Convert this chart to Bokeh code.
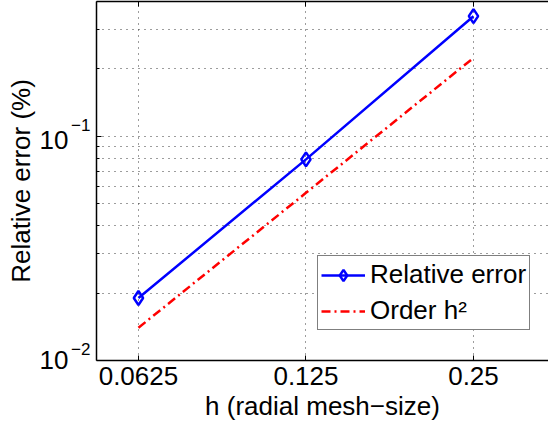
from bokeh.plotting import figure
from bokeh.models import Range1d, FixedTicker, LogAxis, Legend, LegendItem
from bokeh.embed import file_html
from bokeh.resources import INLINE

# ---- data ----
h = [0.0625, 0.125, 0.25]
rel_err = [0.0190, 0.0790, 0.344]
order_h2 = [0.0140, 0.0560, 0.224]

x_ticks = [0.0625, 0.125, 0.25]
x_tick_labels = ["0.0625", "0.125", "0.25"]
y_ticks = [0.01, 0.1]
y_tick_base = ["10", "10"]
y_tick_exponents = ["\u22122", "\u22121"]
y_minor = [0.02, 0.03, 0.04, 0.05, 0.06, 0.07, 0.08, 0.09, 0.2, 0.3, 0.4]

x_lim = (0.05254, 0.341)
y_lim = (0.01, 0.4)

FONT = "Liberation Sans"
FS = "26px"
GRID = "#3a3a3a"

W, H = 548, 425
BORDER_L, BORDER_T, BORDER_B = 96, 1, 65
px_per_decade = (H - BORDER_T - BORDER_B) / 1.60206  # log10(0.4/0.01)

p = figure(width=W, height=H, x_axis_type="log", y_axis_type="log",
           x_range=Range1d(*x_lim), y_range=Range1d(*y_lim),
           output_backend="svg", toolbar_location=None,
           min_border_left=BORDER_L, min_border_right=0, min_border_top=BORDER_T,
           min_border_bottom=BORDER_B)
p.outline_line_color = None
p.background_fill_color = "white"
p.border_fill_color = "white"

# x axis
xa = p.xaxis[0]
xa.ticker = FixedTicker(ticks=x_ticks)
xa.major_label_overrides = {t: s for t, s in zip(x_ticks, x_tick_labels)}
xa.major_label_text_font = FONT
xa.major_label_text_font_size = FS
xa.major_label_text_color = "black"
xa.major_label_standoff = 6
xa.major_tick_in = 5
xa.major_tick_out = 0
xa.minor_tick_in = 0
xa.minor_tick_out = 0
xa.axis_line_width = 1.5
xa.axis_line_color = "black"
xa.major_tick_line_color = "black"
xa.axis_label = "h (radial mesh\u2212size)"
xa.axis_label_text_font = FONT
xa.axis_label_text_font_size = FS
xa.axis_label_text_font_style = "normal"
xa.axis_label_text_color = "black"
xa.axis_label_standoff = 3

# y axis (ticks only, next to the frame)
ya = p.yaxis[0]
ya.ticker = FixedTicker(ticks=y_ticks, minor_ticks=y_minor)
ya.major_label_overrides = {t: "" for t in y_ticks}
ya.major_label_text_font_size = "0px"
ya.major_label_standoff = 0
ya.major_tick_in = 5
ya.major_tick_out = 0
ya.minor_tick_in = 3
ya.minor_tick_out = 0
ya.axis_line_width = 1.5
ya.axis_line_color = "black"
ya.major_tick_line_color = "black"
ya.minor_tick_line_color = "black"

# y tick labels drawn as "10" with a raised exponent, via two label-only axes
def shifted(vals, px_up):
    return [v * 10 ** (u / px_per_decade) for v, u in zip(vals, px_up)]

exp_pos = shifted(y_ticks, [12, 11])
base_pos = shifted(y_ticks, [0.5, -4])

exp_axis = LogAxis(ticker=FixedTicker(ticks=exp_pos, minor_ticks=[]),
                   major_label_overrides={t: s for t, s in zip(exp_pos, y_tick_exponents)},
                   major_label_text_font=FONT, major_label_text_font_size="17px",
                   major_label_text_color="black", major_label_standoff=6,
                   major_tick_in=0, major_tick_out=0, minor_tick_in=0, minor_tick_out=0,
                   axis_line_color=None, major_tick_line_color=None,
                   minor_tick_line_color=None)
p.add_layout(exp_axis, "left")

base_axis = LogAxis(ticker=FixedTicker(ticks=base_pos, minor_ticks=[]),
                    major_label_overrides={t: s for t, s in zip(base_pos, y_tick_base)},
                    major_label_text_font=FONT, major_label_text_font_size=FS,
                    major_label_text_color="black", major_label_standoff=0,
                    major_tick_in=0, major_tick_out=0, minor_tick_in=0, minor_tick_out=0,
                    axis_line_color=None, major_tick_line_color=None,
                    minor_tick_line_color=None,
                    axis_label="Relative error (%)", axis_label_text_font=FONT,
                    axis_label_text_font_size=FS, axis_label_text_font_style="normal",
                    axis_label_text_color="black", axis_label_standoff=1)
p.add_layout(base_axis, "left")

# top border axis (ticks only)
top = LogAxis(ticker=FixedTicker(ticks=x_ticks, minor_ticks=[]),
              major_label_overrides={t: "" for t in x_ticks},
              major_label_text_font_size="0px",
              major_label_standoff=0, major_tick_in=5, major_tick_out=0,
              minor_tick_in=0, minor_tick_out=0,
              axis_line_width=1.5, axis_line_color="black")
p.add_layout(top, "above")

# grids
p.xgrid.ticker = FixedTicker(ticks=x_ticks)
p.xgrid.grid_line_color = GRID
p.xgrid.grid_line_dash = "1 5"
p.xgrid.grid_line_width = 1
p.ygrid.ticker = FixedTicker(ticks=y_ticks, minor_ticks=y_minor)
p.ygrid.grid_line_color = GRID
p.ygrid.grid_line_dash = "1 5"
p.ygrid.minor_grid_line_color = GRID
p.ygrid.minor_grid_line_dash = "1 5"

# series
r1 = p.line(h, rel_err, line_color="#0000ff", line_width=2.5)
r2 = p.scatter(h, rel_err, marker="diamond", size=14, fill_color=None,
               line_color="#0000ff", line_width=2.5)
r3 = p.line(h, order_h2, line_color="#ff0000", line_width=2.5, line_dash="9 4 2 4")

legend = Legend(items=[LegendItem(label="Relative error", renderers=[r1, r2]),
                       LegendItem(label="Order h\u00b2", renderers=[r3])],
                location=(221, 30), label_text_font=FONT, label_text_font_size=FS,
                label_text_color="black", glyph_width=44, glyph_height=28,
                label_height=28, label_standoff=5, padding=3, spacing=5, margin=0,
                border_line_color="black", border_line_width=1,
                background_fill_color="white", background_fill_alpha=1)
p.add_layout(legend)

open("out.html", "w").write(file_html(p, INLINE))
